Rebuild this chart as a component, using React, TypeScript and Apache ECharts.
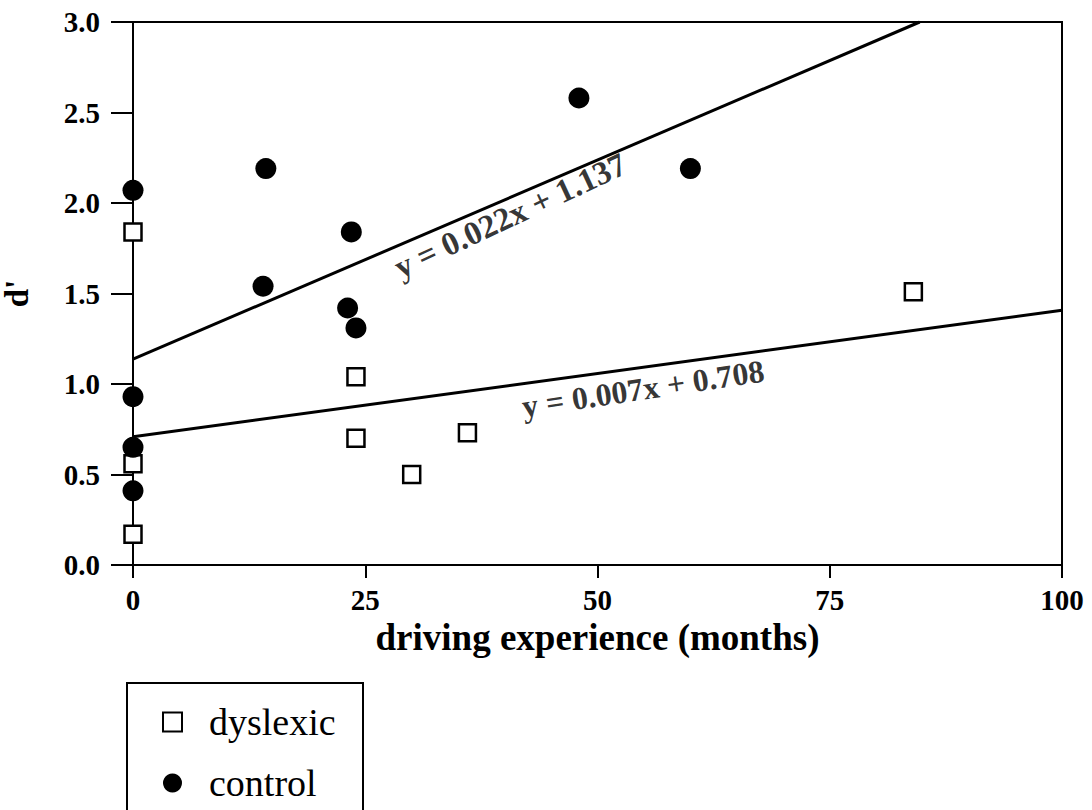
import React, { useEffect, useRef } from "react";
import * as echarts from "echarts";

const xTicks = [0, 25, 50, 75, 100];
const dyslexicX = [0, 0, 0, 24, 24, 30, 36, 84];
const dyslexicY = [1.84, 0.56, 0.17, 1.04, 0.70, 0.50, 0.73, 1.51];
const controlX = [0, 0, 0, 0, 14.3, 14.0, 23.5, 23.1, 24.0, 48, 60];
const controlY = [2.07, 0.93, 0.65, 0.41, 2.19, 1.54, 1.84, 1.42, 1.31, 2.58, 2.19];
const fitControl = { slope: 0.022, intercept: 1.137, label: "y = 0.022x + 1.137" };
const fitDyslexic = { slope: 0.007, intercept: 0.708, label: "y = 0.007x + 0.708" };

const FONT = "'Liberation Serif', 'Times New Roman', serif";

export default function App() {
  const ref = useRef<HTMLDivElement>(null);
  useEffect(() => {
    if (!ref.current) return;
    const chart = echarts.init(ref.current, null, { renderer: "svg" });
    const fitLine = (f: { slope: number; intercept: number }) => {
      const xEnd = Math.min(100, (3 - f.intercept) / f.slope);
      return [
        [0, f.intercept],
        [xEnd, f.intercept + f.slope * xEnd],
      ];
    };
    const eqLabel = (text: string, pos: number[], rot: number, size: number) => ({
      type: "scatter",
      data: [pos],
      symbolSize: 0,
      silent: true,
      z: 5,
      label: {
        show: true,
        position: "inside",
        formatter: text,
        rotate: rot,
        fontFamily: FONT,
        fontWeight: "bold",
        fontSize: size,
        color: "#000",
      },
    });
    chart.setOption({
      animation: false,
      backgroundColor: "#fff",
      grid: {
        left: 133,
        right: 30,
        top: 22,
        bottom: 245,
        show: true,
        borderColor: "#000",
        borderWidth: 2,
        containLabel: false,
        outerBoundsMode: "none",
      },
      xAxis: {
        type: "value",
        min: 0,
        max: 100,
        interval: 25,
        name: "driving experience (months)",
        nameLocation: "middle",
        nameGap: 48,
        nameTextStyle: { fontFamily: FONT, fontWeight: "bold", fontSize: 37, color: "#000" },
        axisLine: { show: true, lineStyle: { color: "#000", width: 2 } },
        axisTick: { show: true, length: 13, lineStyle: { color: "#000", width: 2 } },
        axisLabel: {
          fontFamily: FONT,
          fontWeight: "bold",
          fontSize: 29,
          color: "#000",
          margin: 20,
          formatter: (v: number) => (xTicks.includes(v) ? String(v) : ""),
        },
        splitLine: { show: false },
      },
      yAxis: {
        type: "value",
        min: 0,
        max: 3,
        interval: 0.5,
        name: "d'",
        nameLocation: "middle",
        nameGap: 100,
        nameTextStyle: { fontFamily: FONT, fontWeight: "bold", fontSize: 33, color: "#000" },
        axisLine: { show: true, lineStyle: { color: "#000", width: 2 } },
        axisTick: { show: true, length: 22, lineStyle: { color: "#000", width: 2 } },
        axisLabel: {
          fontFamily: FONT,
          fontWeight: "bold",
          fontSize: 29,
          color: "#000",
          margin: 33,
          formatter: (v: number) => v.toFixed(1),
        },
        splitLine: { show: false },
      },
      legend: {
        orient: "vertical",
        left: 162,
        top: 703,
        padding: 0,
        itemGap: 23,
        itemWidth: 19,
        itemHeight: 19,
        textStyle: {
          fontFamily: FONT,
          fontSize: 38,
          lineHeight: 38,
          color: "#000",
          padding: [0, 0, 0, 22],
        },
        data: [
          { name: "dyslexic", icon: "rect", itemStyle: { color: "#fff", borderColor: "#000", borderWidth: 2 } },
          { name: "control", icon: "circle", itemStyle: { color: "#000" } },
        ],
      },
      graphic: [
        {
          type: "rect",
          shape: { x: 127, y: 683, width: 236, height: 160 },
          style: { fill: "none", stroke: "#000", lineWidth: 2 },
          silent: true,
        },
      ],
      series: [
        {
          name: "fitControl",
          type: "line",
          data: fitLine(fitControl),
          symbol: "none",
          lineStyle: { color: "#000", width: 3 },
          z: 2,
        },
        {
          name: "fitDyslexic",
          type: "line",
          data: fitLine(fitDyslexic),
          symbol: "none",
          lineStyle: { color: "#000", width: 3 },
          z: 2,
        },
        {
          name: "dyslexic",
          type: "scatter",
          data: dyslexicX.map((x, i) => [x, dyslexicY[i]]),
          symbol: "rect",
          symbolSize: 17,
          itemStyle: { color: "#fff", borderColor: "#000", borderWidth: 2.5, opacity: 1 },
          z: 3,
        },
        {
          name: "control",
          type: "scatter",
          data: controlX.map((x, i) => [x, controlY[i]]),
          symbol: "circle",
          symbolSize: 21,
          itemStyle: { color: "#000", opacity: 1 },
          z: 4,
        },
        eqLabel(fitControl.label, [40.6, 1.93], 25, 33),
        eqLabel(fitDyslexic.label, [54.9, 0.975], 8.5, 32),
      ],
    });
    return () => chart.dispose();
  }, []);
  return (
    <div
      ref={ref}
      style={{ position: "absolute", left: 0, top: 0, width: 1092, height: 810 }}
    />
  );
}
